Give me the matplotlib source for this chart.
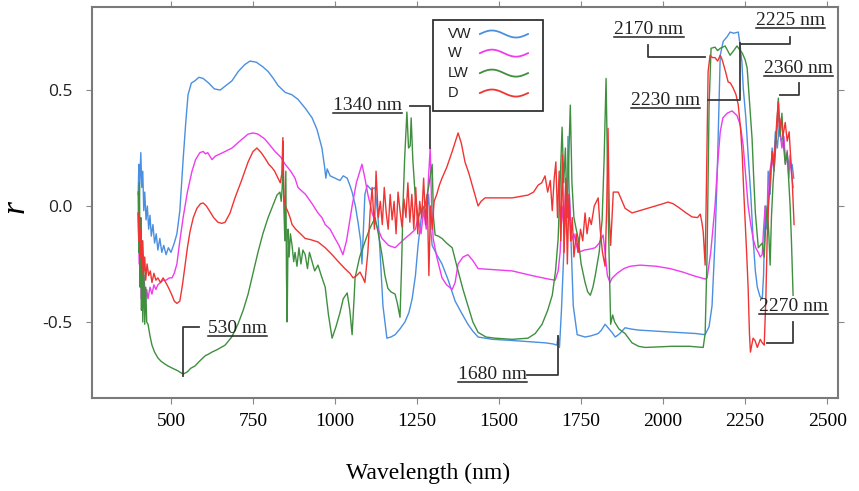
import numpy as np
import matplotlib
matplotlib.use('Agg')
import matplotlib.pyplot as plt
from matplotlib.lines import Line2D
from matplotlib.patches import Rectangle

# Correlacion (r) entre reflectancia y grupo de humedad, por longitud de onda (nm)
vw = [(400, 0.05), (402, 0.18), (405, 0.10), (408, 0.23), (411, 0.08), (414, 0.15), (417, -0.02),
      (420, 0.06), (424, -0.06), (428, 0.00), (432, -0.10), (436, -0.04), (440, -0.13), (445, -0.08),
      (450, -0.16), (455, -0.12), (460, -0.19), (466, -0.14), (472, -0.20), (478, -0.17), (485, -0.21),
      (492, -0.18), (500, -0.20), (510, -0.16), (518, -0.12), (527, -0.02), (537, 0.20), (545, 0.36),
      (552, 0.48), (562, 0.53), (573, 0.54), (585, 0.555), (598, 0.55), (615, 0.53), (632, 0.505),
      (650, 0.50), (668, 0.52), (686, 0.54), (705, 0.58), (725, 0.61), (741, 0.625), (760, 0.62),
      (780, 0.60), (796, 0.58), (812, 0.55), (826, 0.52), (848, 0.49), (868, 0.48), (887, 0.46),
      (910, 0.42), (930, 0.38), (945, 0.33), (960, 0.25), (968, 0.17), (972, 0.12), (976, 0.16),
      (985, 0.13), (1000, 0.12), (1015, 0.11), (1025, 0.13), (1037, 0.12), (1045, 0.09), (1052, 0.06),
      (1062, 0.0), (1070, -0.07), (1078, -0.15), (1082, -0.25), (1086, -0.12), (1091, 0.05),
      (1098, 0.09), (1110, 0.07), (1122, 0.08), (1131, -0.05), (1138, -0.22), (1146, -0.43),
      (1158, -0.57), (1170, -0.565), (1183, -0.555), (1198, -0.53), (1213, -0.50), (1225, -0.46),
      (1235, -0.40), (1245, -0.30), (1253, -0.17), (1262, -0.06), (1268, 0.0), (1278, -0.05),
      (1285, 0.05), (1290, -0.08), (1296, -0.17), (1310, -0.21), (1326, -0.25), (1345, -0.32),
      (1366, -0.41), (1385, -0.46), (1405, -0.51), (1420, -0.54), (1436, -0.565), (1480, -0.575),
      (1540, -0.58), (1590, -0.585), (1640, -0.59), (1665, -0.595), (1676, -0.60), (1680, -0.56),
      (1684, -0.61), (1690, -0.45), (1695, -0.28), (1700, -0.10), (1707, 0.03), (1710, 0.30),
      (1713, 0.10), (1718, -0.10), (1726, -0.43), (1738, -0.555), (1750, -0.56), (1762, -0.565),
      (1780, -0.56), (1802, -0.55), (1812, -0.535), (1823, -0.51), (1835, -0.53), (1844, -0.545),
      (1854, -0.565), (1868, -0.55), (1884, -0.525), (1900, -0.53), (1924, -0.535), (1980, -0.54),
      (2040, -0.545), (2100, -0.55), (2128, -0.555), (2140, -0.52), (2149, -0.43), (2158, -0.15),
      (2165, 0.15), (2174, 0.65), (2183, 0.71), (2195, 0.73), (2204, 0.75), (2215, 0.745),
      (2229, 0.75), (2234, 0.70), (2240, 0.62), (2244, 0.51), (2252, 0.38), (2259, 0.22),
      (2267, 0.05), (2274, -0.14), (2281, -0.28), (2287, -0.35), (2295, -0.39), (2302, -0.40),
      (2306, -0.30), (2311, 0.0), (2316, -0.10), (2320, 0.15), (2326, 0.05), (2332, 0.25),
      (2337, 0.18), (2342, 0.32), (2348, 0.25), (2354, 0.35), (2360, 0.28), (2366, 0.30),
      (2372, 0.20), (2378, 0.22), (2385, 0.16), (2393, 0.18), (2398, 0.12)]

w = [(400, -0.03), (403, -0.25), (406, -0.10), (409, -0.40), (412, -0.20), (415, -0.44), (418, -0.30),
     (422, -0.42), (426, -0.36), (430, -0.40), (436, -0.35), (442, -0.38), (448, -0.34), (454, -0.36),
     (460, -0.34), (468, -0.33), (476, -0.32), (485, -0.32), (495, -0.31), (503, -0.31), (510, -0.29),
     (518, -0.25), (527, -0.15), (537, -0.05), (550, 0.06), (564, 0.15), (575, 0.20), (588, 0.23),
     (598, 0.235), (605, 0.225), (612, 0.23), (625, 0.20), (635, 0.215), (643, 0.22), (665, 0.235),
     (686, 0.25), (710, 0.28), (735, 0.31), (750, 0.315), (765, 0.31), (785, 0.29), (800, 0.265),
     (817, 0.235), (835, 0.21), (848, 0.18), (865, 0.15), (878, 0.12), (887, 0.08), (910, 0.05),
     (930, 0.01), (948, -0.03), (960, -0.05), (970, -0.08), (985, -0.10), (1000, -0.14),
     (1012, -0.17), (1024, -0.21), (1035, -0.15), (1045, -0.06), (1052, 0.0), (1065, 0.10),
     (1082, 0.18), (1091, 0.12), (1100, 0.05), (1113, -0.03), (1128, -0.09), (1143, -0.14),
     (1163, -0.17), (1183, -0.18), (1198, -0.16), (1213, -0.14), (1230, -0.12), (1245, -0.10),
     (1253, -0.05), (1262, -0.12), (1270, -0.02), (1278, -0.10), (1284, 0.10), (1290, 0.25),
     (1294, 0.02), (1299, -0.14), (1310, -0.22), (1326, -0.31), (1340, -0.34), (1357, -0.36),
     (1366, -0.33), (1375, -0.25), (1390, -0.22), (1405, -0.21), (1420, -0.235), (1436, -0.27),
     (1490, -0.275), (1540, -0.28), (1600, -0.30), (1650, -0.315), (1671, -0.32), (1680, -0.28),
     (1686, -0.20), (1692, 0.0), (1698, -0.10), (1703, 0.09), (1708, -0.05), (1714, 0.05),
     (1720, -0.15), (1728, -0.12), (1741, -0.20), (1760, -0.19), (1780, -0.185), (1793, -0.18),
     (1805, -0.16), (1817, -0.125), (1823, -0.20), (1830, -0.30), (1838, -0.33), (1845, -0.31),
     (1860, -0.29), (1880, -0.27), (1899, -0.26), (1930, -0.255), (1980, -0.26), (2021, -0.27),
     (2060, -0.285), (2091, -0.30), (2128, -0.315), (2134, -0.31), (2145, -0.20), (2158, 0.0),
     (2166, 0.18), (2174, 0.32), (2182, 0.38), (2195, 0.40), (2210, 0.41), (2225, 0.39),
     (2235, 0.35), (2244, 0.26), (2252, 0.12), (2259, 0.0), (2267, -0.08), (2274, -0.14),
     (2282, -0.18), (2290, -0.20), (2296, -0.22), (2302, -0.21), (2306, -0.10), (2311, 0.0),
     (2318, -0.05), (2325, 0.15), (2332, 0.20), (2338, 0.15), (2345, 0.30), (2351, 0.405),
     (2356, 0.32), (2362, 0.25), (2368, 0.30), (2373, 0.18), (2378, 0.24), (2383, 0.12),
     (2387, 0.22), (2391, 0.14), (2396, 0.08)]

lw = [(400, 0.06), (402, -0.20), (404, 0.10), (406, -0.35), (408, -0.05), (410, -0.45), (412, -0.15),
      (414, -0.50), (417, -0.25), (420, -0.51), (423, -0.35), (426, -0.50), (430, -0.51), (436, -0.56),
      (442, -0.60), (450, -0.63), (460, -0.655), (470, -0.67), (480, -0.68), (491, -0.69), (505, -0.70),
      (520, -0.71), (537, -0.725), (550, -0.715), (560, -0.70), (573, -0.69), (590, -0.665),
      (605, -0.645), (613, -0.64), (625, -0.63), (640, -0.62), (665, -0.60), (685, -0.565),
      (704, -0.51), (720, -0.45), (735, -0.38), (750, -0.29), (765, -0.20), (780, -0.12), (796, -0.05),
      (810, 0.0), (823, 0.047), (832, 0.06), (836, 0.02), (839, 0.08), (841, 0.28), (844, 0.0),
      (847, -0.15), (850, 0.15), (852, -0.30), (854, -0.50), (857, -0.10), (860, -0.22), (864, -0.12),
      (869, -0.17), (874, -0.24), (878, -0.20), (884, -0.26), (890, -0.18), (896, -0.25), (902, -0.19),
      (909, -0.21), (916, -0.27), (922, -0.20), (930, -0.24), (938, -0.28), (948, -0.255),
      (958, -0.30), (970, -0.35), (980, -0.47), (991, -0.57), (1003, -0.52), (1015, -0.46),
      (1025, -0.40), (1037, -0.375), (1045, -0.45), (1052, -0.555), (1058, -0.40), (1061, -0.31),
      (1075, -0.22), (1091, -0.155), (1105, -0.10), (1122, -0.05), (1132, -0.12), (1143, -0.21),
      (1152, -0.30), (1161, -0.355), (1170, -0.37), (1183, -0.38), (1190, -0.42), (1198, -0.48),
      (1203, -0.25), (1207, 0.0), (1212, 0.20), (1219, 0.405), (1224, 0.25), (1229, 0.26),
      (1232, 0.38), (1237, 0.20), (1244, 0.05), (1253, -0.05), (1262, -0.02), (1274, 0.0),
      (1285, 0.08), (1296, 0.18), (1300, -0.05), (1305, -0.125), (1315, -0.13), (1326, -0.14),
      (1340, -0.16), (1357, -0.18), (1375, -0.28), (1390, -0.36), (1405, -0.43), (1420, -0.50),
      (1436, -0.545), (1460, -0.565), (1488, -0.57), (1540, -0.575), (1588, -0.57), (1610, -0.55),
      (1631, -0.51), (1648, -0.45), (1662, -0.385), (1672, -0.28), (1680, -0.14), (1686, 0.10),
      (1692, 0.34), (1697, 0.10), (1702, 0.25), (1707, -0.05), (1712, 0.20), (1717, 0.435),
      (1722, 0.10), (1728, -0.05), (1735, -0.10), (1741, -0.14), (1750, -0.25), (1762, -0.33),
      (1770, -0.37), (1778, -0.385), (1786, -0.35), (1793, -0.30), (1805, -0.20), (1814, -0.06),
      (1820, 0.20), (1826, 0.55), (1830, 0.20), (1835, -0.20), (1840, -0.51), (1846, -0.47),
      (1852, -0.50), (1865, -0.53), (1884, -0.55), (1905, -0.59), (1925, -0.605), (1945, -0.61),
      (2027, -0.605), (2080, -0.605), (2122, -0.61), (2128, -0.55), (2134, -0.20), (2140, 0.435),
      (2146, 0.68), (2158, 0.685), (2166, 0.67), (2174, 0.68), (2189, 0.69), (2204, 0.65),
      (2215, 0.67), (2225, 0.69), (2235, 0.67), (2241, 0.66), (2250, 0.63), (2256, 0.595),
      (2263, 0.45), (2271, 0.29), (2276, 0.12), (2281, -0.03), (2290, -0.18), (2296, -0.17),
      (2302, -0.16), (2308, -0.22), (2312, -0.10), (2317, 0.0), (2322, -0.12), (2326, -0.255),
      (2330, -0.05), (2335, 0.10), (2340, 0.20), (2345, 0.30), (2351, 0.465), (2356, 0.30),
      (2362, 0.40), (2366, 0.28), (2372, 0.18), (2378, 0.23), (2383, 0.10), (2387, 0.0),
      (2391, -0.15), (2396, -0.385)]

d = [(400, -0.03), (402, -0.15), (404, -0.05), (406, -0.22), (408, -0.10), (411, -0.30), (414, -0.15),
     (417, -0.28), (420, -0.22), (423, -0.32), (427, -0.25), (432, -0.30), (437, -0.28), (442, -0.33),
     (448, -0.29), (454, -0.32), (460, -0.31), (468, -0.33), (476, -0.31), (488, -0.34), (495, -0.36),
     (503, -0.385), (510, -0.41), (518, -0.42), (527, -0.41), (535, -0.34), (543, -0.255),
     (550, -0.18), (558, -0.11), (568, -0.05), (579, -0.01), (590, 0.01), (598, 0.013), (608, 0.0),
     (619, -0.025), (630, -0.05), (643, -0.07), (655, -0.075), (665, -0.07), (680, -0.03),
     (695, 0.035), (715, 0.11), (735, 0.19), (750, 0.235), (762, 0.25), (775, 0.23), (787, 0.205),
     (798, 0.18), (808, 0.165), (816, 0.15), (826, 0.12), (833, 0.10), (838, 0.14), (841, 0.295),
     (844, 0.05), (848, 0.0), (855, -0.02), (863, -0.05), (869, -0.08), (880, -0.10), (895, -0.12),
     (909, -0.14), (925, -0.145), (948, -0.155), (970, -0.18), (991, -0.21), (1010, -0.24),
     (1030, -0.27), (1045, -0.29), (1055, -0.31), (1066, -0.30), (1076, -0.285), (1085, -0.31),
     (1091, -0.33), (1100, -0.20), (1107, -0.025), (1113, 0.08), (1120, -0.10), (1125, 0.15),
     (1132, -0.05), (1138, 0.02), (1144, -0.08), (1150, 0.08), (1156, -0.03), (1162, -0.10),
     (1168, 0.05), (1174, -0.06), (1180, 0.02), (1186, -0.12), (1192, 0.06), (1198, -0.02),
     (1204, -0.09), (1210, 0.03), (1216, -0.05), (1222, 0.10), (1228, -0.07), (1234, 0.05),
     (1240, -0.10), (1246, 0.08), (1252, -0.12), (1258, 0.02), (1264, -0.05), (1270, 0.12),
     (1276, -0.08), (1281, 0.05), (1286, -0.30), (1291, 0.0), (1296, -0.10), (1302, 0.02),
     (1310, 0.05), (1318, 0.09), (1326, 0.12), (1340, 0.165), (1357, 0.235), (1375, 0.315),
     (1385, 0.27), (1396, 0.19), (1408, 0.14), (1418, 0.09), (1428, 0.04), (1436, 0.0),
     (1445, 0.02), (1457, 0.035), (1500, 0.035), (1540, 0.035), (1588, 0.047), (1605, 0.06),
     (1619, 0.09), (1630, 0.10), (1640, 0.13), (1648, 0.06), (1656, 0.11), (1662, -0.02),
     (1668, 0.12), (1673, 0.19), (1678, -0.05), (1683, 0.15), (1688, -0.15), (1693, 0.22),
     (1698, -0.20), (1703, 0.12), (1708, -0.25), (1713, 0.05), (1718, -0.15), (1723, -0.05),
     (1728, -0.22), (1735, -0.12), (1741, -0.20), (1748, -0.10), (1755, -0.15), (1762, -0.03),
     (1768, -0.12), (1775, -0.05), (1781, -0.08), (1790, 0.0), (1802, 0.035), (1808, -0.10),
     (1815, -0.20), (1823, -0.26), (1828, 0.0), (1832, 0.335), (1836, -0.05), (1840, -0.17),
     (1848, 0.06), (1863, 0.06), (1875, 0.02), (1884, -0.01), (1905, -0.03), (1936, -0.017),
     (1976, 0.0), (2000, 0.01), (2015, 0.017), (2030, 0.01), (2046, -0.005), (2070, -0.03),
     (2088, -0.047), (2105, -0.05), (2113, -0.035), (2118, -0.07), (2122, -0.11), (2128, -0.255),
     (2132, 0.10), (2137, 0.58), (2143, 0.65), (2150, 0.64), (2158, 0.64), (2166, 0.625),
     (2174, 0.65), (2180, 0.63), (2190, 0.58), (2198, 0.535), (2205, 0.53), (2213, 0.51),
     (2222, 0.48), (2229, 0.435), (2236, 0.33), (2241, 0.22), (2246, 0.05), (2250, -0.07),
     (2255, -0.22), (2259, -0.355), (2263, -0.55), (2266, -0.63), (2270, -0.60), (2274, -0.57),
     (2280, -0.58), (2287, -0.61), (2292, -0.59), (2296, -0.575), (2302, -0.59), (2308, -0.60),
     (2313, -0.40), (2317, -0.14), (2321, 0.0), (2326, 0.10), (2332, 0.235), (2337, 0.17),
     (2343, 0.30), (2347, 0.38), (2351, 0.45), (2355, 0.33), (2360, 0.38), (2365, 0.30),
     (2372, 0.36), (2378, 0.28), (2384, 0.32), (2389, 0.20), (2393, 0.12), (2399, -0.08)]

series = [('VW', vw, '#4a8fe0'), ('W', w, '#ee3cee'), ('LW', lw, '#3f8f3f'), ('D', d, '#f03434')]

x_ticks = [500, 750, 1000, 1250, 1500, 1750, 2000, 2250, 2500]
y_ticks = [-0.5, 0.0, 0.5]

# etiquetas de bandas: texto, posicion del texto, trazo del conector
notes = [
    ('530 nm', (704, -0.53), [(537, -0.733), (537, -0.52), (585, -0.52)]),
    ('1340 nm', (1098, 0.435), [(1229, 0.431), (1290, 0.431), (1290, 0.25)]),
    ('1680 nm', (1479, -0.728), [(1585, -0.728), (1680, -0.728), (1680, -0.56)]),
    ('2170 nm', (1957, 0.759), [(1954, 0.694), (1954, 0.642), (2128, 0.642)]),
    ('2225 nm', (2387, 0.80), [(2387, 0.728), (2387, 0.698), (2235, 0.698)]),
    ('2230 nm', (2006, 0.457), [(2137, 0.457), (2235, 0.457), (2235, 0.703)]),
    ('2360 nm', (2412, 0.595), [(2415, 0.53), (2415, 0.478), (2357, 0.478)]),
    ('2270 nm', (2397, -0.435), [(2397, -0.50), (2397, -0.59), (2317, -0.59)]),
]

fig = plt.figure(figsize=(8.59, 4.91), dpi=100)
ax = fig.add_axes([0.107, 0.1894, 0.8686, 0.7963])

for name, data, color in series:
    arr = np.array(data).T
    ax.plot(arr[0], arr[1], color=color, lw=1.0, label=name)

ax.set_xlim(259, 2533)
ax.set_ylim(-0.828, 0.858)
ax.set_xticks(x_ticks)
ax.set_yticks(y_ticks)
ax.set_xticklabels([str(v) for v in x_ticks], family='Liberation Serif', fontsize=14)
ax.set_yticklabels(['-0.5', '0.0', '0.5'], family='Open Sans', fontsize=12.5, color='#222222')
ax.tick_params(axis='x', length=4, color='#888888', pad=7, top=True)
ax.tick_params(axis='y', length=4, color='#888888', pad=10, right=True)

for sp in ax.spines.values():
    sp.set_color('#7a7a7a')
    sp.set_linewidth(1.5)

ax.set_xlabel('Wavelength (nm)', family='Liberation Serif', fontsize=17)
ax.set_ylabel('r', family='Liberation Serif', style='italic', fontsize=24, va='center')
ax.xaxis.set_label_coords(0.45, -0.165)
ax.yaxis.set_label_coords(-0.103, 0.49)

# leyenda: texto a la izquierda, muestra ondulada a la derecha
ax.add_patch(Rectangle((0.457, 0.734), 0.148, 0.233, transform=ax.transAxes,
                       facecolor='white', edgecolor='#333333', lw=1.3, zorder=5))
wave_t = np.linspace(0, 1, 60)
row_y = [0.931, 0.882, 0.831, 0.780]
for (name, _, color), y in zip(series, row_y):
    ax.text(0.477, y, name, transform=ax.transAxes, ha='left', va='center',
            family='Liberation Sans', fontsize=10.5, color='#222222', zorder=6)
    ax.plot(0.520 + 0.0645 * wave_t, y + 0.009 * np.sin(2 * np.pi * wave_t),
            transform=ax.transAxes, color=color, lw=1.3, zorder=6)

texts = []
for label, pos, path in notes:
    pts = np.array(path).T
    ax.plot(pts[0], pts[1], color='#3a3a3a', lw=1.3)
    texts.append(ax.text(pos[0], pos[1], label, ha='center', va='center',
                         family='Liberation Serif', fontsize=14, color='#222222'))

# subrayado bajo cada etiqueta
fig.canvas.draw()
inv = fig.transFigure.inverted()
for t in texts:
    bb = t.get_window_extent()
    (x0, y0), (x1, _) = inv.transform([(bb.x0, bb.y0 + 1), (bb.x1, bb.y0 + 1)])
    fig.add_artist(Line2D([x0, x1], [y0, y0], color='#222222', lw=1.1))

fig.savefig('out.png', dpi=100)
